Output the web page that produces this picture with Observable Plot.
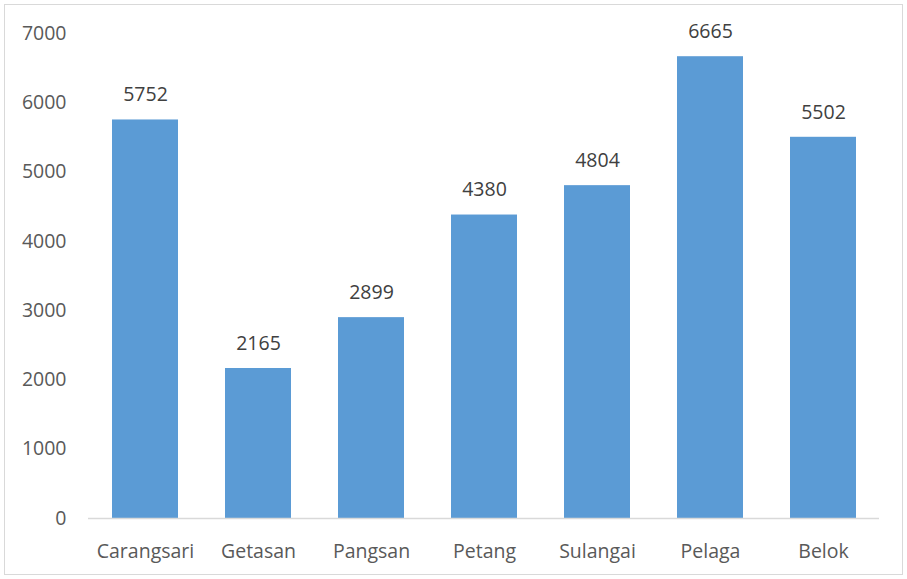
<!DOCTYPE html>
<html>
<head>
<meta charset="utf-8">
<script src="https://cdn.jsdelivr.net/npm/d3@7"></script>
<script src="https://cdn.jsdelivr.net/npm/@observablehq/plot@0.6"></script>
<style>
  html, body { margin: 0; padding: 0; background: #fff; }
  #chart { width: 907px; height: 579px; }
</style>
</head>
<body>
<div id="chart"></div>
<script>
const categories = ["Carangsari", "Getasan", "Pangsan", "Petang", "Sulangai", "Pelaga", "Belok"];
const values = [5752, 2165, 2899, 4380, 4804, 6665, 5502];
const yTicks = [0, 1000, 2000, 3000, 4000, 5000, 6000, 7000];

const data = categories.map((c, i) => ({ name: c, value: values[i] }));
const font = "'Open Sans', 'DejaVu Sans', sans-serif";

const chart = Plot.plot({
  width: 907,
  height: 579,
  marginLeft: 88,
  marginRight: 28,
  marginTop: 33,
  marginBottom: 61,
  style: { fontFamily: font, fontSize: "19.5px", color: "#595959", background: "#fff" },
  x: { domain: categories, paddingInner: 0.42, paddingOuter: 0.21, label: null, tickSize: 0, tickPadding: 26 },
  y: { domain: [0, 7000], ticks: yTicks, tickFormat: d => String(d), label: null, tickSize: 0, tickPadding: 22 },
  marks: [
    Plot.barY(data, { x: "name", y: "value", fill: "#5B9BD5" }),
    Plot.ruleY([0], { stroke: "#d9d9d9", strokeWidth: 1.5 }),
    Plot.text(data, { x: "name", y: "value", text: d => String(d.value), dy: -25, fill: "#404040", fontSize: 19.5 })
  ]
});
d3.select(chart).append("rect")
  .attr("x", 4.5).attr("y", 4.5).attr("width", 898).attr("height", 570)
  .attr("fill", "none").attr("stroke", "#d9d9d9").attr("stroke-width", 1);
document.getElementById("chart").appendChild(chart);
</script>
</body>
</html>
